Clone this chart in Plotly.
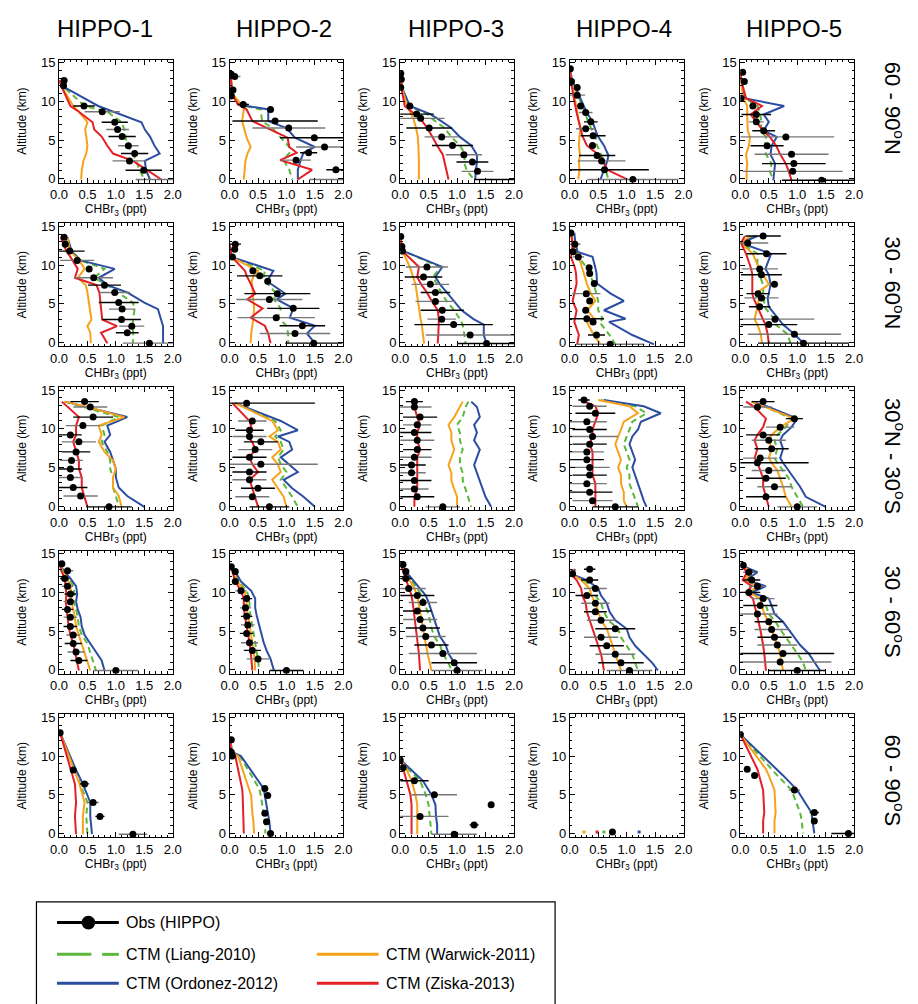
import plotly.graph_objects as go

# CHBr3 vertical profiles: HIPPO campaigns (columns) x latitude bands (rows)
CAMPAIGNS = ["HIPPO-1", "HIPPO-2", "HIPPO-3", "HIPPO-4", "HIPPO-5"]
BANDS = ["60 - 90<sup>o</sup>N", "30 - 60<sup>o</sup>N", "30<sup>o</sup>N - 30<sup>o</sup>S",
         "30 - 60<sup>o</sup>S", "60 - 90<sup>o</sup>S"]
X_TICKS = [0.0, 0.5, 1.0, 1.5, 2.0]
Y_TICKS = [0, 5, 10, 15]

# One entry per panel, row-major (band by band, campaign by campaign).
# Altitude levels (km) shared by observations and model profiles in each panel.
ALT = [
    [12.7, 12.0, 9.4, 8.65, 7.3, 6.35, 5.45, 4.25, 3.25, 2.3, 1.1, -0.1],
    [13.5, 13.2, 11.45, 10.7, 9.6, 8.95, 7.45, 6.55, 5.3, 4.1, 3.35, 2.4, 1.15, -0.1],
    [13.6, 12.85, 11.8, 9.4, 8.35, 7.8, 6.55, 5.4, 4.3, 3.1, 2.15, 0.95, -0.1],
    [14.2, 12.55, 11.8, 10.8, 9.4, 8.55, 7.35, 6.45, 5.55, 4.3, 3.0, 2.3, 1.15, -0.1],
    [13.75, 12.55, 10.4, 9.4, 8.3, 7.35, 6.2, 5.4, 4.25, 3.15, 1.95, 0.95, -0.2],

    [13.6, 12.7, 11.8, 10.6, 9.5, 8.35, 7.4, 6.45, 5.15, 4.3, 2.95, 2.1, 1.25, -0.1],
    [12.7, 12.05, 11.05, 9.25, 8.6, 7.9, 6.3, 5.55, 4.4, 3.2, 2.15, 1.15, -0.1],
    [13.7, 12.4, 11.8, 9.75, 8.45, 7.5, 6.45, 5.3, 4.15, 3.0, 2.3, 0.95, -0.15],
    [14.15, 12.7, 11.7, 11.05, 9.65, 8.9, 7.6, 6.3, 5.35, 4.15, 3.05, 2.65, 0.95, -0.25],
    [13.75, 12.85, 11.45, 9.5, 8.75, 7.5, 6.3, 5.75, 4.6, 3.0, 2.3, 1.05, -0.1],

    [13.5, 12.8, 11.5, 10.4, 9.2, 8.3, 7.0, 5.9, 4.8, 3.7, 2.4, 1.3, -0.1],
    [13.3, 11.0, 9.8, 9.0, 8.3, 7.3, 6.3, 5.4, 4.4, 3.4, 2.3, 1.2, -0.1],
    [13.5, 12.8, 11.5, 10.5, 9.5, 8.5, 7.3, 6.3, 5.3, 4.3, 3.3, 2.2, 1.2, -0.1],
    [13.7, 12.9, 12.0, 10.9, 9.9, 9.0, 8.0, 7.0, 6.0, 5.0, 4.0, 2.9, 1.8, 0.7, -0.1],
    [13.5, 12.8, 11.3, 10.2, 9.2, 8.5, 7.4, 6.2, 5.6, 4.6, 3.6, 2.5, 1.2, -0.1],

    [13.7, 12.8, 11.8, 10.8, 9.8, 8.8, 7.8, 6.8, 5.6, 4.5, 3.4, 2.3, 1.2, -0.1],
    [13.3, 12.7, 11.4, 10.2, 9.2, 8.0, 6.9, 5.8, 4.7, 3.5, 2.5, 1.4, -0.1],
    [13.6, 12.7, 11.8, 10.5, 9.6, 8.7, 7.6, 6.5, 5.4, 4.3, 3.2, 2.1, 0.9, -0.1],
    [13.0, 12.4, 11.6, 10.5, 9.6, 8.6, 7.5, 6.4, 5.3, 4.2, 3.1, 2.0, 0.9, -0.1],
    [13.5, 12.6, 11.6, 10.8, 10.0, 9.2, 8.3, 7.2, 6.2, 5.2, 4.2, 3.2, 2.1, 1.0, -0.1],

    [13.0, 8.2, 6.4, 4.0, 2.2, -0.1],
    [12.1, 10.5, 10.0, 5.8, 4.9, 2.6, 1.5, 0.0],
    [9.5, 8.5, 6.8, 5.0, 3.7, 2.2, 1.1, -0.1],
    [0.2],
    [12.8, 8.3, 7.5, 5.6, 2.7, 1.6, 0.0],
]

# Observed mean mixing ratio (ppt) and its spread
OBS = [
    [0.09, 0.08, 0.44, 0.76, 0.98, 1.03, 1.11, 1.22, 1.33, 1.24, 1.49, 2.3],
    [0.03, 0.09, 0.06, 0.03, 0.24, 0.72, 0.8, 1.04, 1.49, 1.67, 1.39, 1.17, 1.87, 2.2],
    [0.01, 0.02, 0.01, 0.17, 0.29, 0.36, 0.51, 0.73, 0.92, 1.12, 1.27, 1.36, 2.1],
    [0.01, 0.03, 0.13, 0.13, 0.19, 0.28, 0.37, 0.28, 0.41, 0.4, 0.48, 0.56, 0.61, 1.11],
    [0.04, 0.07, 0.01, 0.22, 0.28, 0.28, 0.41, 0.8, 0.47, 0.9, 0.94, 0.92, 1.43],

    [0.09, 0.11, 0.19, 0.32, 0.53, 0.61, 0.8, 0.98, 1.05, 1.11, 1.1, 1.28, 1.2, 1.59],
    [0.1, 0.09, 0.05, 0.41, 0.53, 0.67, 0.84, 0.7, 1.12, 0.82, 1.28, 1.15, 1.48],
    [0.01, 0.03, 0.04, 0.47, 0.41, 0.53, 0.62, 0.62, 0.74, 0.73, 0.94, 1.23, 1.52],
    [0.02, 0.09, 0.06, 0.15, 0.34, 0.35, 0.43, 0.29, 0.35, 0.28, 0.3, 0.41, 0.47, 0.71],
    [0.4, 0.13, 0.46, 0.34, 0.37, 0.6, 0.31, 0.37, 0.34, 0.61, 0.5, 0.95, 1.11],

    [0.45, 0.55, 0.6, 0.42, 0.2, 0.35, 0.3, 0.22, 0.2, 0.2, 0.25, 0.38, 0.88],
    [0.3, 0.4, 0.35, 0.35, 0.55, 0.45, 0.35, 0.55, 0.35, 0.35, 0.5, 0.4, 0.7],
    [0.25, 0.25, 0.35, 0.3, 0.25, 0.3, 0.3, 0.25, 0.2, 0.2, 0.25, 0.25, 0.3, 0.75],
    [0.25, 0.35, 0.45, 0.3, 0.35, 0.4, 0.35, 0.3, 0.3, 0.35, 0.35, 0.3, 0.35, 0.4, 0.8],
    [0.4, 0.3, 0.95, 0.7, 0.4, 0.5, 0.55, 0.35, 0.3, 0.5, 0.45, 0.6, 0.45, 1.0],

    [0.05, 0.15, 0.1, 0.15, 0.2, 0.2, 0.15, 0.2, 0.2, 0.25, 0.25, 0.3, 0.35, 1.0],
    [0.03, 0.1, 0.1, 0.2, 0.3, 0.28, 0.3, 0.32, 0.3, 0.35, 0.4, 0.5, 1.0],
    [0.05, 0.1, 0.1, 0.15, 0.3, 0.4, 0.3, 0.35, 0.4, 0.45, 0.55, 0.75, 0.95, 1.0],
    [0.35, 0.05, 0.35, 0.45, 0.3, 0.45, 0.45, 0.55, 0.8, 0.55, 0.65, 0.8, 0.9, 1.05],
    [0.05, 0.15, 0.2, 0.3, 0.15, 0.4, 0.35, 0.3, 0.5, 0.55, 0.6, 0.65, 0.75, 0.7, 1.0],

    [0.02, 0.25, 0.45, 0.6, 0.72, 1.3],
    [0.03, 0.03, 0.05, 0.62, 0.67, 0.62, 0.65, 0.72],
    [0.0, 0.05, 0.25, 0.6, 1.6, 0.35, 1.3, 0.95],
    [0.75],
    [0.0, 0.12, 0.25, 0.95, 1.3, 1.3, 1.9],
]

OBS_ERR = [
    [0.02, 0.02, 0.19, 0.31, 0.23, 0.2, 0.24, 0.18, 0.24, 0.3, 0.32, 0.95],
    [0.01, 0.1, 0.02, 0.02, 0.1, 0.03, 0.75, 0.64, 0.6, 0.5, 0.15, 0.26, 0.17, 0.8],
    [0.01, 0.01, 0.01, 0.05, 0.3, 0.42, 0.4, 0.3, 0.36, 0.32, 0.28, 0.28, 0.8],
    [0.01, 0.01, 0.02, 0.14, 0.02, 0.12, 0.12, 0.17, 0.22, 0.02, 0.32, 0.42, 0.78, 0.8],
    [0.01, 0.01, 0.01, 0.02, 0.26, 0.13, 0.2, 0.85, 0.29, 0.65, 0.56, 0.88, 0.7],

    [0.02, 0.03, 0.26, 0.3, 0.05, 0.34, 0.29, 0.27, 0.35, 0.23, 0.34, 0.22, 0.2, 0.47],
    [0.1, 0.02, 0.02, 0.03, 0.4, 0.03, 0.58, 0.58, 0.46, 0.68, 0.4, 0.62, 0.5],
    [0.01, 0.02, 0.02, 0.37, 0.33, 0.33, 0.26, 0.35, 0.38, 0.25, 0.69, 0.78, 0.5],
    [0.01, 0.1, 0.02, 0.1, 0.02, 0.05, 0.03, 0.25, 0.03, 0.03, 0.3, 0.03, 0.15, 0.6],
    [0.31, 0.36, 0.35, 0.32, 0.36, 0.03, 0.2, 0.3, 0.19, 0.69, 0.5, 0.82, 0.8],

    [0.25, 0.3, 0.35, 0.3, 0.2, 0.3, 0.25, 0.2, 0.2, 0.2, 0.25, 0.3, 0.4],
    [1.2, 0.25, 0.25, 0.3, 0.3, 0.3, 0.3, 1.0, 0.3, 0.3, 0.3, 0.3, 0.35],
    [0.15, 0.3, 0.3, 0.25, 0.3, 0.3, 0.25, 0.3, 0.25, 0.25, 0.3, 0.25, 0.3, 0.3],
    [0.1, 0.3, 0.35, 0.35, 0.3, 0.45, 0.3, 0.3, 0.3, 0.35, 0.3, 0.35, 0.4, 0.35, 0.4],
    [0.2, 0.25, 0.15, 0.25, 0.3, 0.3, 0.3, 0.3, 0.9, 0.3, 0.35, 0.3, 0.35, 0.35],

    [0.03, 0.1, 0.08, 0.1, 0.1, 0.12, 0.1, 0.12, 0.12, 0.12, 0.15, 0.15, 0.15, 0.4],
    [0.03, 0.05, 0.05, 0.1, 0.1, 0.1, 0.1, 0.12, 0.12, 0.15, 0.15, 0.2, 0.3],
    [0.03, 0.05, 0.1, 0.3, 0.3, 0.25, 0.25, 0.3, 0.3, 0.35, 0.3, 0.6, 0.4, 0.45],
    [0.1, 0.05, 0.15, 0.2, 0.2, 0.25, 0.2, 0.25, 0.35, 0.3, 0.3, 0.35, 0.4, 0.4],
    [0.05, 0.1, 0.15, 0.15, 0.2, 0.2, 0.3, 0.35, 0.25, 0.3, 0.3, 0.35, 0.9, 0.9, 0.5],

    [0.02, 0.05, 0.08, 0.1, 0.08, 0.25],
    [0.02, 0.03, 0.04, 0.05, 0.06, 0.05, 0.05, 0.05],
    [0.01, 0.1, 0.25, 0.4, 0.05, 0.5, 0.08, 0.4],
    [0.0],
    [0.02, 0.04, 0.05, 0.1, 0.08, 0.05, 0.3],
]

# CTM profiles (ppt) for the four emission inventories
LIANG = [
    [0.02, 0.06, 0.45, 0.85, 1.1, 1.15, 1.17, 1.2, 1.3, 1.35, 1.42, 1.5],
    [0.01, 0.02, 0.04, 0.06, 0.15, 0.55, 0.57, 0.75, 0.9, 1.05, 1.05, 0.95, 1.05, 1.1],
    [0.0, 0.01, 0.03, 0.15, 0.48, 0.55, 0.78, 0.9, 1.05, 1.15, 1.12, 1.18, 1.3],
    [0.0, 0.04, 0.09, 0.14, 0.22, 0.27, 0.32, 0.38, 0.45, 0.48, 0.56, 0.6, 0.63, 0.68],
    [0.0, 0.02, 0.08, 0.3, 0.35, 0.37, 0.36, 0.45, 0.43, 0.45, 0.55, 0.52, 0.58],

    [0.12, 0.16, 0.22, 0.38, 0.8, 0.62, 0.85, 1.03, 1.3, 1.33, 1.3, 1.3, 1.3, 1.3],
    [0.0, 0.01, 0.03, 0.62, 0.6, 0.63, 0.82, 0.78, 0.9, 0.85, 1.0, 1.03, 1.03],
    [0.0, 0.03, 0.06, 0.7, 0.58, 0.65, 0.72, 0.82, 0.95, 1.05, 1.1, 1.13, 1.15],
    [0.03, 0.06, 0.1, 0.15, 0.3, 0.35, 0.42, 0.47, 0.5, 0.5, 0.58, 0.52, 0.7, 0.8],
    [0.25, 0.01, 0.3, 0.3, 0.33, 0.4, 0.4, 0.42, 0.42, 0.6, 0.62, 0.83, 0.88],

    [0.1, 0.45, 1.05, 0.75, 0.8, 0.75, 0.85, 0.9, 0.9, 0.95, 0.95, 1.0, 1.05],
    [0.1, 0.8, 0.9, 0.8, 0.9, 0.95, 0.85, 0.9, 1.0, 0.9, 1.0, 1.1, 1.2],
    [1.2, 1.15, 1.1, 1.0, 1.05, 1.05, 1.1, 1.05, 1.05, 1.1, 1.1, 1.15, 1.2, 1.25],
    [0.55, 1.15, 1.35, 1.1, 1.05, 1.0, 0.95, 1.0, 1.05, 1.0, 1.05, 1.05, 1.1, 1.15, 1.2],
    [0.2, 0.45, 0.9, 0.8, 0.65, 0.6, 0.65, 0.6, 0.65, 0.75, 0.85, 0.9, 1.0, 1.1],

    [0.02, 0.07, 0.18, 0.25, 0.27, 0.26, 0.3, 0.33, 0.35, 0.4, 0.5, 0.55, 0.6, 0.65],
    [0.02, 0.08, 0.16, 0.3, 0.35, 0.35, 0.37, 0.4, 0.42, 0.45, 0.47, 0.5, 0.52],
    [0.02, 0.08, 0.18, 0.3, 0.38, 0.42, 0.48, 0.52, 0.55, 0.6, 0.7, 0.75, 0.85, 0.9],
    [0.08, 0.02, 0.25, 0.42, 0.45, 0.55, 0.6, 0.68, 0.85, 0.9, 1.0, 1.1, 1.15, 1.2],
    [0.02, 0.25, 0.08, 0.38, 0.18, 0.42, 0.45, 0.5, 0.62, 0.7, 0.8, 0.9, 1.0, 1.1, 1.15],

    [0.02, 0.28, 0.38, 0.5, 0.48, 0.5],
    [0.01, 0.05, 0.18, 0.52, 0.55, 0.6, 0.62, 0.63],
    [0.01, 0.12, 0.35, 0.45, 0.5, 0.52, 0.53, 0.55],
    [0.6],
    [0.0, 0.55, 0.65, 0.9, 1.05, 1.08, 1.1],
]

WARWICK = [
    [0.01, 0.04, 0.25, 0.35, 0.5, 0.46, 0.48, 0.5, 0.48, 0.43, 0.4, 0.39],
    [0.01, 0.02, 0.05, 0.08, 0.2, 0.25, 0.22, 0.25, 0.3, 0.37, 0.32, 0.28, 0.26, 0.25],
    [0.0, 0.01, 0.03, 0.12, 0.19, 0.23, 0.28, 0.31, 0.32, 0.33, 0.33, 0.33, 0.33],
    [0.0, 0.03, 0.05, 0.08, 0.11, 0.13, 0.16, 0.19, 0.17, 0.16, 0.18, 0.16, 0.17, 0.15],
    [0.0, 0.01, 0.05, 0.12, 0.12, 0.13, 0.13, 0.17, 0.15, 0.1, 0.12, 0.11, 0.11],

    [0.15, 0.17, 0.19, 0.36, 0.45, 0.33, 0.47, 0.5, 0.53, 0.55, 0.57, 0.5, 0.55, 0.56],
    [0.0, 0.01, 0.03, 0.5, 0.42, 0.39, 0.41, 0.42, 0.43, 0.42, 0.4, 0.38, 0.37],
    [0.0, 0.02, 0.04, 0.17, 0.22, 0.27, 0.29, 0.31, 0.34, 0.36, 0.38, 0.4, 0.42],
    [0.02, 0.06, 0.09, 0.16, 0.22, 0.25, 0.3, 0.37, 0.45, 0.31, 0.43, 0.3, 0.42, 0.54],
    [0.18, 0.01, 0.22, 0.33, 0.4, 0.5, 0.27, 0.33, 0.3, 0.25, 0.3, 0.36, 0.38],

    [0.1, 0.5, 1.15, 0.7, 0.75, 0.7, 0.8, 0.95, 1.0, 0.95, 0.95, 1.05, 1.1],
    [0.1, 0.75, 0.85, 0.7, 0.85, 0.9, 0.75, 0.85, 0.9, 0.75, 0.85, 0.95, 1.0],
    [1.1, 1.05, 0.95, 0.85, 0.9, 0.9, 0.95, 0.9, 0.85, 0.9, 0.9, 0.95, 1.0, 1.0],
    [0.5, 1.05, 1.2, 0.95, 0.9, 0.85, 0.8, 0.85, 0.9, 0.85, 0.9, 0.9, 0.95, 0.95, 1.0],
    [0.2, 0.45, 0.95, 0.7, 0.55, 0.5, 0.55, 0.5, 0.55, 0.65, 0.7, 0.75, 0.8, 0.9],

    [0.02, 0.06, 0.15, 0.2, 0.22, 0.22, 0.25, 0.28, 0.3, 0.35, 0.4, 0.45, 0.5, 0.55],
    [0.02, 0.07, 0.14, 0.26, 0.3, 0.3, 0.33, 0.35, 0.37, 0.4, 0.42, 0.44, 0.45],
    [0.02, 0.07, 0.15, 0.25, 0.3, 0.32, 0.35, 0.38, 0.4, 0.42, 0.45, 0.48, 0.52, 0.55],
    [0.07, 0.02, 0.2, 0.35, 0.38, 0.45, 0.5, 0.55, 0.65, 0.7, 0.75, 0.8, 0.85, 0.9],
    [0.02, 0.2, 0.07, 0.3, 0.15, 0.35, 0.38, 0.42, 0.5, 0.55, 0.6, 0.65, 0.7, 0.72, 0.75],

    [0.02, 0.26, 0.36, 0.45, 0.42, 0.42],
    [0.01, 0.04, 0.15, 0.35, 0.38, 0.4, 0.42, 0.43],
    [0.01, 0.1, 0.2, 0.27, 0.3, 0.3, 0.3, 0.3],
    [0.25],
    [0.0, 0.45, 0.5, 0.6, 0.62, 0.6, 0.6],
]

ORDONEZ = [
    [0.02, 0.05, 0.69, 0.97, 1.45, 1.51, 1.6, 1.68, 1.77, 1.51, 1.53, 1.6],
    [0.01, 0.02, 0.04, 0.06, 0.15, 0.68, 0.68, 1.0, 1.15, 1.5, 1.3, 1.25, 1.2, 1.2],
    [0.0, 0.01, 0.03, 0.17, 0.53, 0.65, 0.9, 1.05, 1.25, 1.35, 1.35, 1.33, 1.32],
    [0.0, 0.05, 0.1, 0.16, 0.24, 0.3, 0.4, 0.44, 0.49, 0.6, 0.68, 0.66, 0.6, 0.54],
    [0.0, 0.02, 0.07, 0.77, 0.41, 0.5, 0.41, 0.64, 0.55, 0.53, 0.61, 0.6, 0.58],

    [0.15, 0.18, 0.22, 0.38, 0.98, 0.7, 0.85, 1.2, 1.5, 1.74, 1.8, 1.83, 1.83, 1.83],
    [0.0, 0.01, 0.03, 0.77, 0.72, 0.66, 0.98, 0.83, 1.12, 1.06, 1.5, 1.36, 1.5],
    [0.0, 0.03, 0.06, 0.74, 0.62, 0.7, 0.82, 0.95, 1.08, 1.29, 1.47, 1.47, 1.52],
    [0.08, 0.1, 0.14, 0.4, 0.45, 0.47, 0.48, 0.72, 0.95, 0.6, 0.98, 0.69, 1.1, 1.48],
    [0.3, 0.01, 0.54, 0.44, 0.5, 0.53, 0.5, 0.48, 0.5, 0.68, 0.75, 0.95, 1.11],

    [0.1, 0.5, 1.2, 0.85, 0.9, 0.8, 0.9, 0.95, 1.0, 1.0, 1.05, 1.2, 1.5],
    [0.1, 0.9, 1.2, 0.85, 1.05, 1.1, 0.9, 1.05, 1.2, 0.95, 1.1, 1.3, 1.5],
    [1.25, 1.35, 1.4, 1.3, 1.35, 1.3, 1.4, 1.35, 1.3, 1.35, 1.4, 1.45, 1.5, 1.6],
    [0.6, 1.3, 1.6, 1.25, 1.2, 1.1, 1.05, 1.1, 1.15, 1.1, 1.15, 1.2, 1.25, 1.3, 1.35],
    [0.2, 0.5, 1.0, 0.9, 0.75, 0.7, 0.75, 0.7, 0.75, 0.85, 0.95, 1.05, 1.15, 1.5],

    [0.02, 0.08, 0.2, 0.3, 0.32, 0.3, 0.33, 0.38, 0.4, 0.45, 0.55, 0.65, 0.75, 0.8],
    [0.02, 0.1, 0.2, 0.38, 0.45, 0.45, 0.48, 0.52, 0.55, 0.6, 0.65, 0.72, 0.78],
    [0.02, 0.1, 0.2, 0.35, 0.45, 0.5, 0.55, 0.6, 0.65, 0.7, 0.8, 0.85, 0.95, 1.05],
    [0.1, 0.02, 0.3, 0.5, 0.55, 0.65, 0.7, 0.8, 1.0, 1.05, 1.15, 1.3, 1.45, 1.55],
    [0.02, 0.3, 0.1, 0.45, 0.2, 0.5, 0.55, 0.6, 0.75, 0.85, 0.95, 1.05, 1.2, 1.3, 1.4],

    [0.02, 0.3, 0.42, 0.55, 0.55, 0.58],
    [0.01, 0.05, 0.2, 0.6, 0.62, 0.68, 0.7, 0.72],
    [0.01, 0.15, 0.4, 0.55, 0.62, 0.63, 0.65, 0.65],
    [1.22],
    [0.0, 0.65, 0.75, 1.0, 1.25, 1.27, 1.3],
]

ZISKA = [
    [0.01, 0.04, 0.2, 0.35, 0.59, 0.62, 0.75, 0.85, 0.95, 1.3, 1.55, 1.8],
    [0.01, 0.02, 0.04, 0.06, 0.15, 0.3, 0.4, 0.65, 1.02, 1.05, 1.18, 0.89, 1.45, 1.2],
    [0.0, 0.01, 0.02, 0.08, 0.25, 0.35, 0.48, 0.56, 0.65, 0.75, 0.78, 0.82, 0.85],
    [0.0, 0.02, 0.04, 0.06, 0.09, 0.12, 0.16, 0.19, 0.22, 0.3, 0.52, 0.58, 0.66, 1.01],
    [0.0, 0.02, 0.1, 0.38, 0.18, 0.28, 0.4, 0.52, 0.63, 0.7, 0.8, 0.85, 0.9],

    [0.03, 0.08, 0.13, 0.24, 0.33, 0.28, 0.66, 0.71, 0.73, 0.75, 0.76, 1.02, 0.74, 0.85],
    [0.0, 0.02, 0.04, 0.27, 0.3, 0.35, 0.45, 0.31, 0.58, 0.37, 0.62, 0.68, 0.72],
    [0.0, 0.02, 0.04, 0.33, 0.3, 0.37, 0.47, 0.56, 0.66, 0.68, 0.68, 0.67, 0.66],
    [0.02, 0.05, 0.04, 0.02, 0.09, 0.11, 0.12, 0.08, 0.05, 0.12, 0.1, 0.08, 0.16, 0.13],
    [0.08, 0.01, 0.1, 0.19, 0.21, 0.21, 0.21, 0.23, 0.3, 0.4, 0.44, 0.48, 0.5],

    [0.05, 0.15, 0.35, 0.3, 0.3, 0.25, 0.3, 0.35, 0.35, 0.4, 0.4, 0.45, 0.5],
    [0.05, 0.35, 0.4, 0.3, 0.4, 0.45, 0.35, 0.4, 0.5, 0.35, 0.4, 0.45, 0.5],
    [0.3, 0.25, 0.3, 0.35, 0.3, 0.3, 0.35, 0.3, 0.3, 0.3, 0.3, 0.3, 0.25, 0.25],
    [0.2, 0.45, 0.5, 0.45, 0.4, 0.4, 0.35, 0.4, 0.4, 0.4, 0.4, 0.45, 0.45, 0.45, 0.45],
    [0.1, 0.25, 0.45, 0.4, 0.3, 0.25, 0.3, 0.25, 0.3, 0.35, 0.4, 0.4, 0.45, 0.5],

    [0.01, 0.04, 0.1, 0.12, 0.13, 0.12, 0.13, 0.15, 0.17, 0.2, 0.25, 0.28, 0.32, 0.35],
    [0.01, 0.05, 0.1, 0.2, 0.25, 0.25, 0.27, 0.3, 0.32, 0.35, 0.37, 0.38, 0.4],
    [0.01, 0.05, 0.1, 0.15, 0.2, 0.22, 0.24, 0.26, 0.28, 0.3, 0.32, 0.33, 0.34, 0.35],
    [0.05, 0.01, 0.12, 0.2, 0.22, 0.28, 0.3, 0.35, 0.4, 0.45, 0.5, 0.55, 0.58, 0.6],
    [0.01, 0.12, 0.04, 0.2, 0.1, 0.22, 0.25, 0.28, 0.32, 0.35, 0.38, 0.4, 0.42, 0.44, 0.45],

    [0.02, 0.2, 0.28, 0.3, 0.28, 0.3],
    [0.01, 0.03, 0.1, 0.22, 0.23, 0.24, 0.25, 0.25],
    [0.01, 0.05, 0.12, 0.18, 0.2, 0.2, 0.2, 0.2],
    [0.48],
    [0.0, 0.3, 0.33, 0.4, 0.42, 0.4, 0.4],
]

MODELS = [
    ("CTM (Liang-2010)", LIANG, "#5cb83a", "6px,4px"),
    ("CTM (Ordonez-2012)", ORDONEZ, "#2b4ea2", "solid"),
    ("CTM (Warwick-2011)", WARWICK, "#f7a21b", "solid"),
    ("CTM (Ziska-2013)", ZISKA, "#e41f26", "solid"),
]
MODEL_ORDER_LEGEND = [0, 2, 1, 3]

# ---- page geometry (pixels) ----
W, H = 918, 1004
COL_LEFT = [51, 225, 399, 572, 746]
ROW_TOP = [56, 221, 386, 551, 716]
PW, PH = 116, 124
TITLE_X = [98, 280, 456, 627, 801]
BAND_Y = [105, 281, 456, 613, 783]
FONT = "Arial, Liberation Sans, sans-serif"


def px(x):
    return x / W


def py(y):
    return 1 - y / H


fig = go.Figure()
layout_axes = {}
annotations = []
shapes = []

for r in range(5):
    for c in range(5):
        k = r * 5 + c
        n = k + 1
        xa = "x" if n == 1 else f"x{n}"
        ya = "y" if n == 1 else f"y{n}"
        alt = ALT[k]

        for name, vals, color, dash in MODELS:
            v = vals[k]
            if len(v) == 1:
                fig.add_trace(go.Scatter(x=v, y=alt, mode="markers", xaxis=xa, yaxis=ya,
                                         marker=dict(color=color, size=3, symbol="square"),
                                         showlegend=False, hoverinfo="skip"))
            else:
                fig.add_trace(go.Scatter(x=v, y=alt, mode="lines", xaxis=xa, yaxis=ya,
                                         line=dict(color=color, width=2, dash=dash),
                                         showlegend=False, hoverinfo="skip"))

        # observation spread, alternating dark and grey bars
        for parity, ecol in ((0, "#000000"), (1, "#777777")):
            idx = [i for i in range(len(alt)) if i % 2 == parity]
            if not idx:
                continue
            fig.add_trace(go.Scatter(
                x=[OBS[k][i] for i in idx], y=[alt[i] for i in idx], mode="markers",
                xaxis=xa, yaxis=ya, marker=dict(size=0.1, color=ecol, opacity=0),
                error_x=dict(type="data", array=[OBS_ERR[k][i] for i in idx],
                             color=ecol, thickness=1.4, width=0),
                showlegend=False, hoverinfo="skip"))
        fig.add_trace(go.Scatter(x=OBS[k], y=alt, mode="markers", xaxis=xa, yaxis=ya,
                                 marker=dict(color="black", size=7),
                                 showlegend=False, hoverinfo="skip"))

        x0, y0 = COL_LEFT[c], ROW_TOP[r]
        common = dict(showline=True, linecolor="black", linewidth=1, mirror="allticks",
                      ticks="inside", ticklen=5, tickcolor="black", showgrid=False,
                      zeroline=False, tickfont=dict(size=13, color="black", family=FONT))
        layout_axes["xaxis" if n == 1 else f"xaxis{n}"] = dict(
            domain=[px(x0), px(x0 + PW)], range=[0, 2.0], anchor=ya,
            tickvals=X_TICKS, ticktext=[f"{t:.1f}" for t in X_TICKS],
            minor=dict(ticks="inside", ticklen=2.5, dtick=0.1, tickcolor="black"),
            title=dict(text="CHBr<sub>3</sub> (ppt)", font=dict(size=12, color="black", family=FONT),
                       standoff=0),
            **common)
        layout_axes["yaxis" if n == 1 else f"yaxis{n}"] = dict(
            domain=[py(y0 + PH), py(y0)], range=[-0.5, 15.4], anchor=xa,
            tickvals=Y_TICKS,
            minor=dict(ticks="inside", ticklen=2.5, dtick=1, tickcolor="black"),
            title=dict(text="Altitude (km)", font=dict(size=12, color="black", family=FONT),
                       standoff=11),
            **common)

for c, name in enumerate(CAMPAIGNS):
    annotations.append(dict(text=name, x=px(TITLE_X[c]), y=py(25), xref="paper",
                            yref="paper", showarrow=False, xanchor="center", yanchor="middle",
                            font=dict(size=24, color="black", family=FONT)))
for r, band in enumerate(BANDS):
    annotations.append(dict(text=band, x=px(903), y=py(BAND_Y[r]), xref="paper",
                            yref="paper", showarrow=False, textangle=90, xanchor="center",
                            yanchor="middle", font=dict(size=22, color="black", family=FONT)))

# ---- legend box ----
shapes.append(dict(type="rect", xref="paper", yref="paper", x0=px(28), x1=px(557),
                   y0=py(1012), y1=py(905), line=dict(color="black", width=1.2),
                   fillcolor="rgba(0,0,0,0)"))


def legend_text(txt, x, y):
    annotations.append(dict(text=txt, x=px(x), y=py(y), xref="paper", yref="paper",
                            showarrow=False, xanchor="left", yanchor="middle",
                            font=dict(size=16, color="black", family=FONT)))


# observations
shapes.append(dict(type="line", xref="paper", yref="paper", x0=px(49), x1=px(112),
                   y0=py(926), y1=py(926), line=dict(color="black", width=3)))
shapes.append(dict(type="circle", xref="paper", yref="paper", x0=px(74), x1=px(88),
                   y0=py(933), y1=py(919), fillcolor="black", line=dict(color="black", width=0)))
legend_text("Obs (HIPPO)", 117, 926)

legend_slots = [(49, 958), (314, 958), (49, 987), (314, 987)]
for slot, mi in zip(legend_slots, MODEL_ORDER_LEGEND):
    name, _, color, dash = MODELS[mi]
    lx, ly = slot
    if dash == "solid":
        shapes.append(dict(type="line", xref="paper", yref="paper", x0=px(lx), x1=px(lx + 63),
                           y0=py(ly), y1=py(ly), line=dict(color=color, width=3)))
    else:
        for a, b in ((lx, lx + 35), (lx + 46, lx + 63)):
            shapes.append(dict(type="line", xref="paper", yref="paper", x0=px(a), x1=px(b),
                               y0=py(ly), y1=py(ly), line=dict(color=color, width=3)))
    legend_text(name, lx + 68, ly)

fig.update_layout(
    width=W, height=H, margin=dict(l=0, r=0, t=0, b=0),
    paper_bgcolor="white", plot_bgcolor="white", showlegend=False,
    font=dict(family=FONT, color="black"),
    annotations=annotations, shapes=shapes, **layout_axes)

fig.write_html("out.html")
